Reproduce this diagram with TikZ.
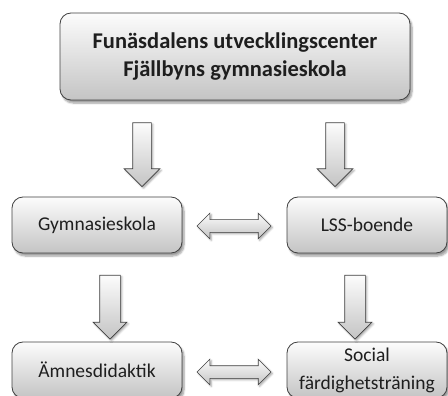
\documentclass[tikz,border=0pt]{standalone}
\usepackage{fontspec}
\setmainfont{Carlito}
\usetikzlibrary{shapes.arrows,shadows.blur}
\definecolor{custcol_boxline}{RGB}{64, 64, 64}
\definecolor{custcol_boxtop}{RGB}{252, 252, 252}
\definecolor{custcol_boxbot}{RGB}{196, 196, 196}
\definecolor{custcol_text}{RGB}{30, 30, 30}
\tikzset{
  stagebox/.style={draw=custcol_boxline, line width=0.8pt, rounded corners=11pt,
    top color=custcol_boxtop, bottom color=custcol_boxbot, text=custcol_text,
    align=center, inner sep=0,
    blur shadow={shadow xshift=2pt, shadow yshift=-3pt, shadow blur steps=6, shadow opacity=40}},
  downarrow/.style={single arrow, draw=custcol_boxline, line width=0.7pt, rotate=-90,
    inner sep=0, text height=9pt, text depth=9pt, single arrow head extend=8.5pt,
    minimum height=64pt, top color=custcol_boxtop, bottom color=custcol_boxbot,
    blur shadow={shadow xshift=1.5pt, shadow yshift=-1.5pt, shadow blur steps=4, shadow opacity=35}},
  linkarrow/.style={double arrow, draw=custcol_boxline, line width=0.7pt,
    inner sep=0, text height=6pt, text depth=6pt, double arrow head extend=6.5pt,
    minimum height=74pt, top color=custcol_boxtop, bottom color=custcol_boxbot,
    blur shadow={shadow xshift=1.5pt, shadow yshift=-1.5pt, shadow blur steps=4, shadow opacity=35}}
}
\begin{document}
\begin{tikzpicture}[x=1pt,y=-1pt]
\useasboundingbox (0,0) rectangle (448,396);
% boxes
\node[stagebox, minimum width=350pt, minimum height=87pt,
  font=\fontsize{22.5pt}{28pt}\bfseries\selectfont] (center) at (235,56.5)
  {Funäsdalens utvecklingscenter\\Fjällbyns gymnasieskola};
\node[stagebox, minimum width=170pt, minimum height=56pt,
  font=\fontsize{19.5pt}{24pt}\selectfont] (gymn) at (97,225) {Gymnasieskola};
\node[stagebox, minimum width=160pt, minimum height=56pt,
  font=\fontsize{19.5pt}{24pt}\selectfont] (lss) at (367,225) {LSS-boende};
\node[stagebox, minimum width=170pt, minimum height=56pt,
  font=\fontsize{19.5pt}{24pt}\selectfont] (didak) at (97,370) {Ämnesdidaktik};
\node[stagebox, minimum width=160pt, minimum height=56pt,
  font=\fontsize{19.5pt}{28pt}\selectfont] (social) at (367,370) {Social\\färdighetsträning};
% arrows
\node[downarrow] (center-gymn) at (142,150) {};
\node[downarrow] (center-lss) at (335,150) {};
\node[downarrow, text height=10pt, text depth=10pt, single arrow head extend=6.5pt] (gymn-didak) at (110,302) {};
\node[downarrow, text height=10pt, text depth=10pt, single arrow head extend=6.5pt] (lss-social) at (355,302) {};
\node[linkarrow] (gymn-lss) at (234,226) {};
\node[linkarrow] (didak-social) at (234,372) {};
\end{tikzpicture}
\end{document}
